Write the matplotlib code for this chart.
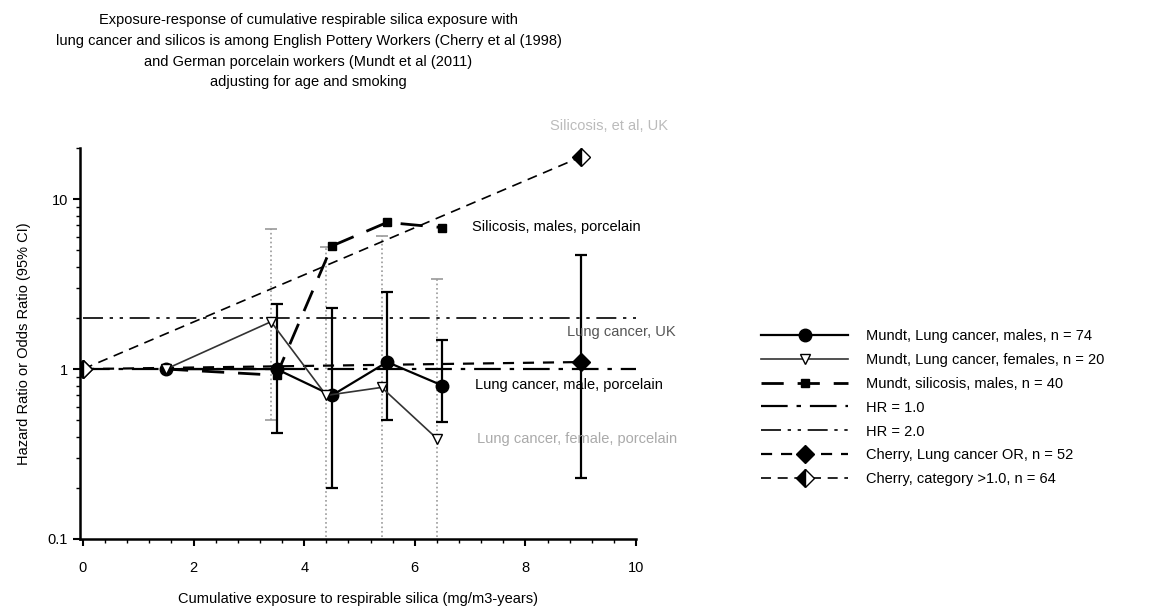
import matplotlib
matplotlib.use('Agg')
import matplotlib.pyplot as plt
from matplotlib.ticker import MultipleLocator, FixedLocator, LogLocator, NullFormatter
import numpy as np

plt.rcParams['font.family'] = ['Liberation Sans', 'DejaVu Sans']

# Mundt et al (2011), males, lung cancer
male_x = [1.5, 3.5, 4.5, 5.5, 6.5]
male_hr = [1.0, 1.0, 0.70, 1.1, 0.80]
male_lo = [1.0, 0.42, 0.20, 0.50, 0.49]
male_hi = [1.0, 2.4, 2.3, 2.85, 1.48]

# Mundt et al (2011), females, lung cancer
female_x = [1.5, 3.4, 4.4, 5.4, 6.4]
female_hr = [1.0, 1.9, 0.70, 0.78, 0.39]
female_lo = [1.0, 0.5, 0.05, 0.05, 0.05]
female_hi = [1.0, 6.7, 5.2, 6.1, 3.4]

# Mundt, silicosis, males
sil_x = [1.5, 3.5, 4.5, 5.5, 6.5]
sil_hr = [1.0, 0.92, 5.3, 7.3, 6.8]

# Cherry et al (1998)
cherry_or_x = [0, 9]
cherry_or = [1.0, 1.1]
cherry_or_lo = [1.0, 0.23]
cherry_or_hi = [1.0, 4.7]
cherry_cat_x = [0, 9]
cherry_cat = [1.0, 17.7]

ref_x = [0, 10]
hr1 = [1.0, 1.0]
hr2 = [2.0, 2.0]

legend_labels = ['Mundt, Lung cancer, males, n = 74',
                 'Mundt, Lung cancer, females, n = 20',
                 'Mundt, silicosis, males, n = 40',
                 'HR = 1.0',
                 'HR = 2.0',
                 'Cherry, Lung cancer OR, n = 52',
                 'Cherry, category >1.0, n = 64']

fig = plt.figure(figsize=(11.64, 6.07), dpi=100)
ax = fig.add_axes([80/1164, 68/607, 556/1164, 391/607])

def yerr(v, lo, hi):
    v = np.array(v); lo = np.array(lo); hi = np.array(hi)
    return [v - lo, hi - v]

# error bars
feb = ax.errorbar(female_x, female_hr, yerr=yerr(female_hr, female_lo, female_hi), fmt='none',
                  ecolor='#999999', elinewidth=1.2, capsize=4.5, capthick=1.2, zorder=2)
feb[2][0].set_linestyle(':')
ax.errorbar(male_x, male_hr, yerr=yerr(male_hr, male_lo, male_hi), fmt='none',
            ecolor='black', elinewidth=1.6, capsize=4.5, capthick=1.6, zorder=3)
ax.errorbar(cherry_or_x, cherry_or, yerr=yerr(cherry_or, cherry_or_lo, cherry_or_hi), fmt='none',
            ecolor='black', elinewidth=1.6, capsize=4.5, capthick=1.6, zorder=3)

h = []
h += ax.plot(male_x, male_hr, color='black', lw=1.6, marker='o', ms=9, zorder=5)
h += ax.plot(female_x, female_hr, color='#333333', lw=1.2, marker='v', ms=7,
             mfc='white', mec='black', zorder=6)
h += ax.plot(sil_x, sil_hr, color='black', lw=2.0, dashes=(8, 5), marker='s', ms=6, zorder=4)
h += ax.plot(ref_x, hr1, color='black', lw=1.6, dashes=(12, 4, 2, 4), zorder=2)
h += ax.plot(ref_x, hr2, color='black', lw=1.2, dashes=(12, 4, 2, 4, 2, 4), zorder=2)
h += ax.plot(cherry_or_x, cherry_or, color='black', lw=1.6, dashes=(5, 4), marker='D', ms=9, zorder=4)
h += ax.plot(cherry_cat_x, cherry_cat, color='black', lw=1.2, dashes=(6, 4), marker='D', ms=9,
             fillstyle='left', mfc='black', mfcalt='white', mec='black', zorder=4)

ax.set_yscale('log')
ax.set_ylim(0.1, 20)
ax.set_xlim(-0.054, 10)
ax.xaxis.set_major_locator(MultipleLocator(2))
ax.xaxis.set_minor_locator(MultipleLocator(0.4))
ax.yaxis.set_major_locator(FixedLocator([0.1, 1, 10]))
ax.yaxis.set_minor_locator(LogLocator(base=10, subs=np.arange(2, 10)))
ax.yaxis.set_minor_formatter(NullFormatter())
ax.set_yticklabels(['0.1', '1', '10'])
ax.tick_params(labelsize=10.5, direction='out', width=1.5, length=5)
ax.tick_params(axis='x', pad=11)
ax.tick_params(which='minor', direction='out', width=1.0, length=3)
for s in ['top', 'right']:
    ax.spines[s].set_visible(False)
for s in ['left', 'bottom']:
    ax.spines[s].set_linewidth(1.8)

ax.set_xlabel('Cumulative exposure to respirable silica (mg/m3-years)', fontsize=10.5, labelpad=12)
ax.set_ylabel('Hazard Ratio or Odds Ratio (95% CI)', fontsize=10.5, labelpad=12)

ax.text(7.03, 6.9, 'Silicosis, males, porcelain', fontsize=10.5, va='center', clip_on=False)
ax.text(8.75, 1.65, 'Lung cancer, UK', fontsize=10.5, va='center', color='#555555', clip_on=False)
ax.text(7.09, 0.805, 'Lung cancer, male, porcelain', fontsize=10.5, va='center', clip_on=False)
ax.text(7.12, 0.39, 'Lung cancer, female, porcelain', fontsize=10.5, va='center', color='#aaaaaa', clip_on=False)
ax.text(8.44, 26.8, 'Silicosis, et al, UK', fontsize=10.5, va='center', color='#bbbbbb', clip_on=False)

fig.text(0.265, 0.978,
         'Exposure-response of cumulative respirable silica exposure with\n'
         'lung cancer and silicos is among English Pottery Workers (Cherry et al (1998)\n'
         'and German porcelain workers (Mundt et al (2011)\n'
         'adjusting for age and smoking',
         ha='center', va='top', fontsize=10.5, linespacing=1.6)

fig.legend(h, legend_labels, loc='upper left', bbox_to_anchor=(755/1164, 1 - 323/607),
           frameon=False, fontsize=10.5, handlelength=6, handletextpad=1.2,
           labelspacing=0.68, borderaxespad=0)

fig.savefig('out.png', dpi=100)
